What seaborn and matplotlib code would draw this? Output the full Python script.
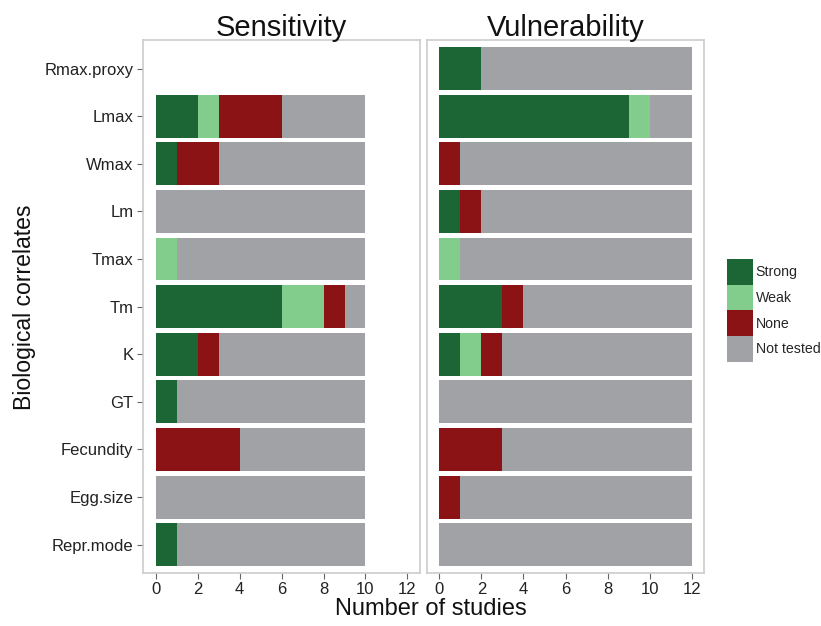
import matplotlib
matplotlib.use("Agg")
import matplotlib.pyplot as plt
import seaborn as sns
import pandas as pd
import numpy as np
from matplotlib.patches import Patch

sns.set_theme(style="white")
plt.rcParams['font.family'] = ['Liberation Sans', 'DejaVu Sans']

categories = ["Rmax.proxy", "Lmax", "Wmax", "Lm", "Tmax", "Tm", "K", "GT",
              "Fecundity", "Egg.size", "Repr.mode"]

sens_strong = [0, 2, 1, 0, 0, 6, 2, 1, 0, 0, 1]
sens_weak   = [0, 1, 0, 0, 1, 2, 0, 0, 0, 0, 0]
sens_none   = [0, 3, 2, 0, 0, 1, 1, 0, 4, 0, 0]
sens_nt     = [0, 4, 7, 10, 9, 1, 7, 9, 6, 10, 9]

vul_strong = [2, 9, 0, 1, 0, 3, 1, 0, 0, 0, 0]
vul_weak   = [0, 1, 0, 0, 1, 0, 1, 0, 0, 0, 0]
vul_none   = [0, 0, 1, 1, 0, 1, 1, 0, 3, 1, 0]
vul_nt     = [10, 2, 11, 10, 11, 8, 9, 12, 9, 11, 12]

levels = ["Strong", "Weak", "None", "Not tested"]
colors = {"Strong": "#1c6636", "Weak": "#82cc8c", "None": "#8b1316", "Not tested": "#a0a2a6"}
panels = [("Sensitivity", sens_strong, sens_weak, sens_none, sens_nt),
          ("Vulnerability", vul_strong, vul_weak, vul_none, vul_nt)]

fs_tick = 12
fs_title = 21
fs_xlab = 17
fs_ylab = 16.6
fs_leg = 10.2

W, H = 821, 626
fig = plt.figure(figsize=(W / 100, H / 100), dpi=100)
top, bot = 40, 573.3
ax_rects = [(143.3 / W, 1 - bot / H, (420 - 143.3) / W, (bot - top) / H),
            (426.7 / W, 1 - bot / H, (704.3 - 426.7) / W, (bot - top) / H)]

for i, (title, s, w, n, nt) in enumerate(panels):
    ax = fig.add_axes(ax_rects[i])
    df = pd.DataFrame({"cat": categories, "Strong": s, "Weak": w, "None": n, "Not tested": nt})
    cum = df[levels].cumsum(axis=1)
    for lev in reversed(levels):
        sns.barplot(data=pd.DataFrame({"cat": categories, "val": cum[lev]}),
                    x="val", y="cat", order=categories, orient="h",
                    color=colors[lev], saturation=1, width=0.9,
                    linewidth=0, ax=ax, errorbar=None)
    ax.set_xlim(-0.6, 12.6)
    ax.set_ylim(len(categories) - 0.4, -0.6)
    ax.set_xticks(range(0, 13, 2))
    ax.set_xticklabels([str(v) for v in range(0, 13, 2)], fontsize=fs_tick, color="#222222")
    ax.set_title(title, fontsize=fs_title, pad=3, color="#111111")
    ax.set_xlabel("")
    ax.set_ylabel("")
    for sp in ax.spines.values():
        sp.set_color("#cccccc")
        sp.set_linewidth(1.2)
    ax.tick_params(axis="x", length=4, width=0.8, color="#666666", bottom=True, pad=2)
    if i == 0:
        ax.tick_params(axis="y", length=4, width=0.8, color="#666666", left=True, pad=3)
        ax.set_yticklabels(categories, fontsize=fs_tick, color="#222222")
    else:
        ax.set_yticks([])

fig.text(431 / W, 1 - 609 / H, "Number of studies", ha="center", va="center", fontsize=fs_xlab, color="#111111")
fig.text(24 / W, 1 - 307 / H, "Biological correlates", ha="center", va="center",
         rotation=90, fontsize=fs_ylab, color="#111111")

handles = [Patch(facecolor=colors[l], edgecolor="none", label=l) for l in levels]
px = fs_leg * 100 / 72
key_h = 25.7 / px
hh = (key_h - 0.245) / 0.65
fig.legend(handles=handles, loc="center left", bbox_to_anchor=(727 / W, 1 - 310.5 / H),
           frameon=False, fontsize=fs_leg, handlelength=26 / px,
           handleheight=hh,
           labelspacing=0, handletextpad=2.5 / px, borderaxespad=0, borderpad=0)

fig.savefig("out.png", dpi=100)
